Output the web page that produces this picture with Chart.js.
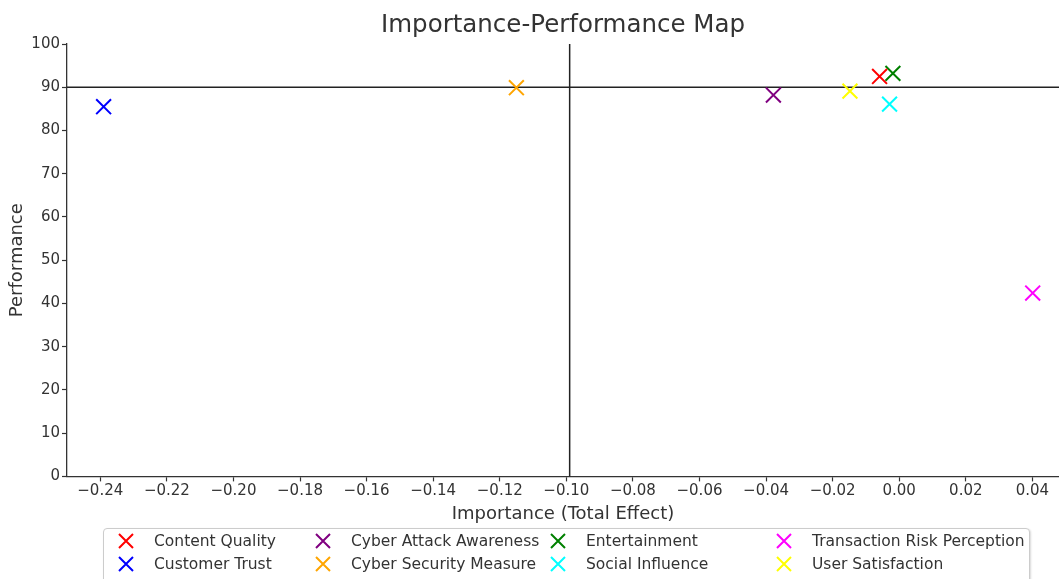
<!DOCTYPE html>
<html>
<head>
<meta charset="utf-8">
<script src="https://cdn.jsdelivr.net/npm/chart.js@4"></script>
<style>
  body { margin: 0; background: #fff; font-family: "DejaVu Sans", sans-serif; }
  #wrap { position: relative; width: 1059px; height: 579px; overflow: hidden; }
  #legend {
    position: absolute; left: 103px; top: 528px; width: 927px; height: 60px;
    border: 1px solid #ccc; border-radius: 4px; background: #fff;
    box-shadow: 1px 1px 2px rgba(0,0,0,0.15);
    display: grid; grid-auto-flow: column;
    grid-template-rows: repeat(2, 23px);
    grid-template-columns: 197px 235px 226px auto;
    padding: 0 0 0 13px; box-sizing: border-box;
  }
  .item { display: flex; align-items: center; font-size: 15.5px; color: #333; white-space: nowrap; }
  .item svg { width: 18px; height: 18px; margin-right: 19px; flex: none; }
</style>
</head>
<body>
<div id="wrap">
  <canvas id="ipmChart"></canvas>
  <div id="legend"></div>
</div>
<script>
// data
const categories = ['Content Quality', 'Customer Trust', 'Cyber Attack Awareness', 'Cyber Security Measure',
                    'Entertainment', 'Social Influence', 'Transaction Risk Perception', 'User Satisfaction'];
const importance = [-0.0059, -0.239, -0.0378, -0.115, -0.0019, -0.0029, 0.0401, -0.0148];
const performance = [92.5, 85.5, 88.2, 89.9, 93.2, 86.1, 42.4, 89.1];
const colors = ['red', 'blue', 'purple', 'orange', 'green', 'cyan', 'magenta', 'yellow'];

const perfLine = 90;      // horizontal reference
const impLine = -0.099;   // vertical reference
const chartTitle = 'Importance-Performance Map';

const textColor = '#333';

function fmtTick(v) {
    if (Math.abs(v) < 1e-9) v = 0;
    return v.toFixed(2).replace('-', '\u2212');
}

// draws the two reference lines
const refLines = {
    id: 'refLines',
    beforeDatasetsDraw(chart) {
        const {ctx, chartArea, scales} = chart;
        const yp = scales.y.getPixelForValue(perfLine);
        const xp = scales.x.getPixelForValue(impLine);
        ctx.save();
        ctx.strokeStyle = '#222';
        ctx.lineWidth = 1.5;
        ctx.beginPath();
        ctx.moveTo(chartArea.left, yp);
        ctx.lineTo(chartArea.right, yp);
        ctx.moveTo(xp, chartArea.top);
        ctx.lineTo(xp, chartArea.bottom);
        ctx.stroke();
        ctx.restore();
    }
};

// title centred over the plot area, not the whole canvas
const plotTitle = {
    id: 'plotTitle',
    afterDraw(chart) {
        const {ctx, chartArea} = chart;
        ctx.save();
        ctx.fillStyle = textColor;
        ctx.font = '24.5px "DejaVu Sans"';
        ctx.textAlign = 'center';
        ctx.textBaseline = 'middle';
        ctx.fillText(chartTitle, (chartArea.left + chartArea.right) / 2, 26);
        ctx.restore();
    }
};

let datasets = categories.map((name, i) => ({
    label: name,
    data: [{x: importance[i], y: performance[i]}],
    pointStyle: 'crossRot',
    pointRadius: 10.5,
    pointHoverRadius: 10.5,
    borderWidth: 2,
    borderColor: colors[i],
    backgroundColor: colors[i]
}));

const ctx = document.getElementById('ipmChart').getContext('2d');
const myChart = new Chart(ctx, {
    type: 'scatter',
    data: { datasets: datasets },
    options: {
        responsive: true,
        maintainAspectRatio: false,
        animation: false,
        layout: { autoPadding: false, padding: { left: 0, right: 0, top: 44, bottom: 52 } },
        plugins: {
            legend: { display: false },
            tooltip: { enabled: false },
            title: { display: false }
        },
        scales: {
            x: {
                type: 'linear',
                min: -0.25,
                max: 0.048,
                border: { display: true, color: '#333', width: 1.3 },
                grid: { drawOnChartArea: false, drawTicks: true, tickLength: 5, color: '#333', tickWidth: 1.2 },
                ticks: {
                    stepSize: 0.02,
                    includeBounds: false,
                    color: textColor,
                    padding: 1,
                    maxRotation: 0,
                    autoSkip: false,
                    font: { family: 'DejaVu Sans', size: 15 },
                    callback: (v) => fmtTick(v)
                },
                title: {
                    display: true,
                    text: 'Importance (Total Effect)',
                    color: textColor,
                    font: { family: 'DejaVu Sans', size: 18 },
                    padding: { top: 2, bottom: 2 }
                },
                afterFit: (scale) => { scale.paddingLeft = 0; scale.paddingRight = 0; }
            },
            y: {
                type: 'linear',
                min: 0,
                max: 100,
                border: { display: true, color: '#333', width: 1.3 },
                grid: { drawOnChartArea: false, drawTicks: true, tickLength: 5, color: '#333', tickWidth: 1.2 },
                ticks: {
                    stepSize: 10,
                    color: textColor,
                    padding: 2,
                    font: { family: 'DejaVu Sans', size: 15 }
                },
                title: {
                    display: true,
                    text: 'Performance',
                    color: textColor,
                    font: { family: 'DejaVu Sans', size: 18 },
                    padding: { top: 7, bottom: 0 }
                },
                afterFit: (scale) => { scale.width = 67; scale.paddingTop = 0; scale.paddingBottom = 0; }
            }
        }
    },
    plugins: [refLines, plotTitle]
});

// legend as html, column by column like the original
function buildLegend() {
    let box = document.getElementById('legend');
    categories.forEach((name, i) => {
        let item = document.createElement('div');
        item.className = 'item';
        item.innerHTML = `<svg viewBox="0 0 18 18"><path d="M2 2 L16 16 M16 2 L2 16" stroke="${colors[i]}" stroke-width="2" fill="none"/></svg><span>${name}</span>`;
        box.appendChild(item);
    });
}
buildLegend();
</script>
</body>
</html>
